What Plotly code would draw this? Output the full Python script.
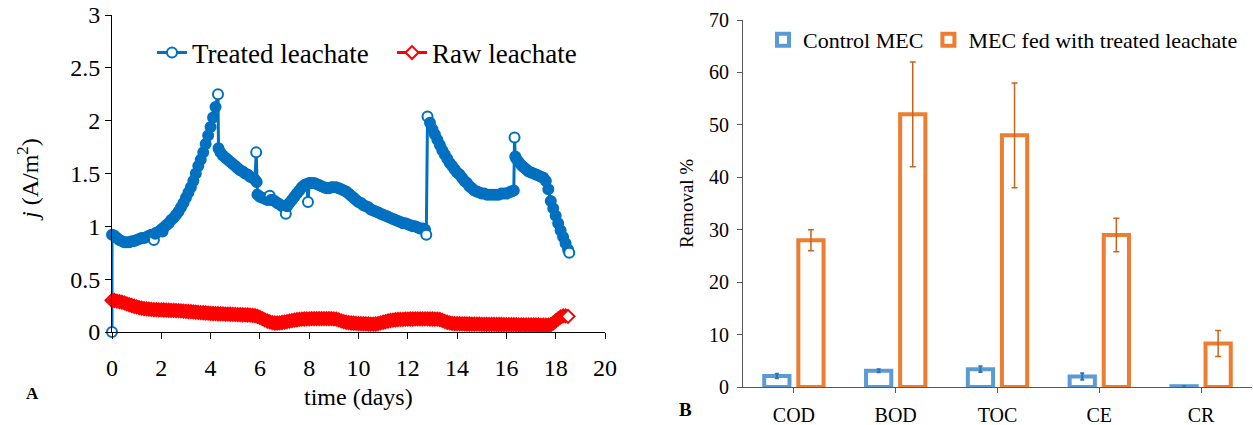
import plotly.graph_objects as go

FONT = "Liberation Serif"
W, H = 1253, 425

# ---------------- Panel A data ----------------
time_treated = [
    0.0, 0.0, 0.1, 0.2, 0.3, 0.4, 0.5, 0.6, 0.7, 0.8, 0.9,
    1.0, 1.1, 1.2, 1.3, 1.4, 1.5, 1.6, 1.7, 1.75, 1.8, 1.9,
    2.0, 2.05, 2.1, 2.2, 2.3, 2.4, 2.5, 2.6, 2.7, 2.8, 2.9,
    3.0, 3.1, 3.2, 3.3, 3.4, 3.5, 3.6, 3.7, 3.8, 3.9,
    4.0, 4.1, 4.2, 4.3, 4.32, 4.4, 4.5, 4.6, 4.7, 4.8, 4.9,
    5.0, 5.1, 5.2, 5.3, 5.4, 5.5, 5.6, 5.7, 5.8, 5.85, 5.87, 5.9,
    6.0, 6.1, 6.2, 6.3, 6.4, 6.45, 6.5, 6.6, 6.7, 6.8, 6.9,
    7.0, 7.05, 7.1, 7.2, 7.3, 7.4, 7.5, 7.6, 7.7, 7.8, 7.9, 7.95,
    8.0, 8.1, 8.2, 8.3, 8.4, 8.5, 8.6, 8.7, 8.8, 8.9,
    9.0, 9.1, 9.2, 9.3, 9.4, 9.5, 9.6, 9.7, 9.8, 9.9,
    10.0, 10.1, 10.2, 10.3, 10.4, 10.5, 10.6, 10.7, 10.8, 10.9,
    11.0, 11.1, 11.2, 11.3, 11.4, 11.5, 11.6, 11.7, 11.8, 11.9,
    12.0, 12.1, 12.2, 12.3, 12.4, 12.5, 12.6, 12.7, 12.75, 12.8, 12.9,
    13.0, 13.1, 13.2, 13.3, 13.4, 13.5, 13.6, 13.7, 13.8, 13.9,
    14.0, 14.1, 14.2, 14.3, 14.4, 14.5, 14.6, 14.7, 14.8, 14.9,
    15.0, 15.1, 15.2, 15.3, 15.4, 15.5, 15.6, 15.7, 15.8, 15.9,
    16.0, 16.1, 16.2, 16.3, 16.33, 16.36, 16.4, 16.5, 16.6, 16.7, 16.8, 16.9,
    17.0, 17.1, 17.2, 17.3, 17.4, 17.5, 17.6, 17.7, 17.8, 17.9,
    18.0, 18.1, 18.2, 18.3, 18.4, 18.5, 18.55,
]
j_treated = [
    0.00, 0.92, 0.91, 0.89, 0.87, 0.86, 0.85, 0.85, 0.85, 0.86, 0.86,
    0.87, 0.88, 0.89, 0.89, 0.90, 0.91, 0.92, 0.87, 0.93, 0.94, 0.95,
    0.97, 0.95, 0.99, 1.01, 1.03, 1.06, 1.08, 1.11, 1.14, 1.18, 1.22,
    1.27, 1.32, 1.37, 1.43, 1.50, 1.57, 1.63, 1.70, 1.78, 1.86,
    1.94, 2.03, 2.13, 2.25, 1.74, 1.70, 1.67, 1.65, 1.63, 1.61, 1.59,
    1.57, 1.55, 1.53, 1.52, 1.50, 1.49, 1.47, 1.46, 1.44, 1.70, 1.42, 1.30,
    1.28, 1.27, 1.26, 1.25, 1.29, 1.25, 1.25, 1.24, 1.22, 1.21, 1.19,
    1.18, 1.12, 1.19, 1.22, 1.25, 1.28, 1.31, 1.34, 1.37, 1.39, 1.40, 1.23,
    1.41, 1.41, 1.41, 1.40, 1.39, 1.38, 1.37, 1.36, 1.36, 1.37,
    1.37, 1.37, 1.36, 1.35, 1.34, 1.33, 1.31, 1.29, 1.27, 1.25,
    1.23, 1.22, 1.20, 1.19, 1.18, 1.16, 1.15, 1.14, 1.13, 1.12,
    1.11, 1.10, 1.09, 1.08, 1.07, 1.06, 1.05, 1.04, 1.03, 1.03,
    1.02, 1.01, 1.00, 1.00, 0.99, 0.98, 0.98, 0.97, 0.92, 2.04, 1.98,
    1.92, 1.87, 1.82, 1.77, 1.72, 1.68, 1.64, 1.60, 1.57, 1.54,
    1.51, 1.49, 1.46, 1.43, 1.41, 1.38, 1.36, 1.34, 1.33, 1.32,
    1.31, 1.31, 1.30, 1.30, 1.30, 1.30, 1.30, 1.30, 1.31, 1.31,
    1.31, 1.32, 1.33, 1.34, 1.84, 1.66, 1.64, 1.61, 1.58, 1.56, 1.54, 1.52,
    1.51, 1.50, 1.49, 1.48, 1.47, 1.46, 1.43, 1.35, 1.24, 1.17,
    1.10, 1.03, 0.96, 0.90, 0.84, 0.78, 0.75,
]

time_raw = [
    0.0, 0.1, 0.2, 0.3, 0.4, 0.5, 0.6, 0.7, 0.8, 0.9,
    1.0, 1.1, 1.2, 1.3, 1.4, 1.5, 1.6, 1.7, 1.8, 1.9,
    2.0, 2.1, 2.2, 2.3, 2.4, 2.5, 2.6, 2.7, 2.8, 2.9,
    3.0, 3.1, 3.2, 3.3, 3.4, 3.5, 3.6, 3.7, 3.8, 3.9,
    4.0, 4.1, 4.2, 4.3, 4.4, 4.5, 4.6, 4.7, 4.8, 4.9,
    5.0, 5.1, 5.2, 5.3, 5.4, 5.5, 5.6, 5.7, 5.8, 5.9,
    6.0, 6.1, 6.2, 6.3, 6.4, 6.5, 6.6, 6.7, 6.8, 6.9,
    7.0, 7.1, 7.2, 7.3, 7.4, 7.5, 7.6, 7.7, 7.8, 7.9,
    8.0, 8.1, 8.2, 8.3, 8.4, 8.5, 8.6, 8.7, 8.8, 8.9,
    9.0, 9.1, 9.2, 9.3, 9.4, 9.5, 9.6, 9.7, 9.8, 9.9,
    10.0, 10.1, 10.2, 10.3, 10.4, 10.5, 10.6, 10.7, 10.8, 10.9,
    11.0, 11.1, 11.2, 11.3, 11.4, 11.5, 11.6, 11.7, 11.8, 11.9,
    12.0, 12.1, 12.2, 12.3, 12.4, 12.5, 12.6, 12.7, 12.8, 12.9,
    13.0, 13.1, 13.2, 13.3, 13.4, 13.5, 13.6, 13.7, 13.8, 13.9,
    14.0, 14.1, 14.2, 14.3, 14.4, 14.5, 14.6, 14.7, 14.8, 14.9,
    15.0, 15.1, 15.2, 15.3, 15.4, 15.5, 15.6, 15.7, 15.8, 15.9,
    16.0, 16.1, 16.2, 16.3, 16.4, 16.5, 16.6, 16.7, 16.8, 16.9,
    17.0, 17.1, 17.2, 17.3, 17.4, 17.5, 17.6, 17.7, 17.8, 17.9,
    18.0, 18.1, 18.2, 18.3, 18.4, 18.5,
]
j_raw = [
    0.300, 0.298, 0.293, 0.288, 0.282, 0.275, 0.266, 0.258, 0.251, 0.244,
    0.237, 0.231, 0.226, 0.222, 0.219, 0.216, 0.214, 0.212, 0.211, 0.210,
    0.209, 0.208, 0.207, 0.206, 0.205, 0.204, 0.203, 0.202, 0.200, 0.198,
    0.196, 0.194, 0.192, 0.190, 0.188, 0.186, 0.184, 0.182, 0.180, 0.178,
    0.176, 0.175, 0.174, 0.173, 0.172, 0.171, 0.170, 0.169, 0.168, 0.167,
    0.166, 0.165, 0.164, 0.163, 0.162, 0.161, 0.160, 0.158, 0.155, 0.148,
    0.138, 0.127, 0.115, 0.104, 0.095, 0.089, 0.085, 0.085, 0.087, 0.090,
    0.094, 0.098, 0.103, 0.108, 0.112, 0.116, 0.119, 0.121, 0.123, 0.124,
    0.125, 0.126, 0.126, 0.127, 0.127, 0.127, 0.127, 0.127, 0.126, 0.126,
    0.125, 0.121, 0.114, 0.106, 0.098, 0.092, 0.088, 0.085, 0.083, 0.081,
    0.080, 0.079, 0.078, 0.077, 0.076, 0.075, 0.075, 0.076, 0.080, 0.086,
    0.092, 0.098, 0.104, 0.109, 0.113, 0.116, 0.118, 0.119, 0.120, 0.121,
    0.122, 0.123, 0.123, 0.124, 0.124, 0.124, 0.124, 0.124, 0.124, 0.123,
    0.123, 0.122, 0.121, 0.118, 0.110, 0.100, 0.092, 0.086, 0.082, 0.080,
    0.079, 0.078, 0.077, 0.077, 0.076, 0.076, 0.075, 0.075, 0.074, 0.074,
    0.073, 0.073, 0.073, 0.072, 0.072, 0.072, 0.071, 0.071, 0.071, 0.070,
    0.070, 0.070, 0.069, 0.069, 0.069, 0.068, 0.068, 0.068, 0.067, 0.067,
    0.067, 0.066, 0.066, 0.066, 0.065, 0.065, 0.064, 0.064, 0.070, 0.085,
    0.105, 0.125, 0.142, 0.152, 0.153, 0.148,
]
time_ticks = [0, 2, 4, 6, 8, 10, 12, 14, 16, 18, 20]
j_ticks = [0, 0.5, 1, 1.5, 2, 2.5, 3]

# ---------------- Panel B data ----------------
categories = ["COD", "BOD", "TOC", "CE", "CR"]
control_removal = [2.1, 3.1, 3.4, 2.0, 0.15]
control_err = [0.45, 0.3, 0.55, 0.6, 0.0]
treated_removal = [28.0, 52.0, 48.0, 29.0, 8.3]
treated_err = [2.0, 10.0, 10.0, 3.2, 2.5]
removal_ticks = [0, 10, 20, 30, 40, 50, 60, 70]

BLUE = "#0070C0"
RED = "#FF0000"
BAR_BLUE = "#5B9BD5"
BAR_ORANGE = "#ED7D31"


def px_x(p):
    """pixel of the reference image -> paper fraction"""
    return p / W


def px_y(p):
    return 1 - p / H


def hollow_fill(values, color, thr=0.035):
    """Markers whose white centre stays visible: end points and isolated spikes."""
    fills = []
    n = len(values)
    for i, v in enumerate(values):
        if i == 0 or i == n - 1:
            fills.append("white")
            continue
        a, b = v - values[i - 1], v - values[i + 1]
        if abs(a) > thr and abs(b) > thr and a * b > 0:
            fills.append("white")
        else:
            fills.append(color)
    return fills


fig = go.Figure()

fig.add_trace(go.Scatter(
    x=time_treated, y=j_treated, mode="lines+markers", name="Treated leachate",
    line=dict(color=BLUE, width=3),
    marker=dict(symbol="circle", size=10, color=hollow_fill(j_treated, BLUE),
                line=dict(color=BLUE, width=2)),
    xaxis="x", yaxis="y", legend="legend", cliponaxis=False,
))
fig.add_trace(go.Scatter(
    x=time_raw, y=j_raw, mode="lines+markers", name="Raw leachate",
    line=dict(color=RED, width=3),
    marker=dict(symbol="diamond", size=10, color=hollow_fill(j_raw, RED, thr=1.0),
                line=dict(color=RED, width=2)),
    xaxis="x", yaxis="y", legend="legend", cliponaxis=False,
))

fig.add_trace(go.Bar(
    x=categories, y=control_removal, name="Control MEC",
    marker=dict(color="white", line=dict(color=BAR_BLUE, width=4)),
    error_y=dict(type="data", array=control_err, color="#2E75B6", thickness=2, width=2),
    xaxis="x2", yaxis="y2", legend="legend2",
))
fig.add_trace(go.Bar(
    x=categories, y=treated_removal, name="MEC fed with treated leachate",
    marker=dict(color="white", line=dict(color=BAR_ORANGE, width=4)),
    error_y=dict(type="data", array=treated_err, color="#C9641F", thickness=1.5, width=3),
    xaxis="x2", yaxis="y2", legend="legend2",
))

axis_common = dict(showgrid=False, zeroline=False, showline=True, ticks="outside",
                   automargin=False, ticklabeloverflow="allow")

fig.update_layout(
    width=W, height=H,
    margin=dict(l=0, r=0, t=0, b=0, autoexpand=False),
    paper_bgcolor="white", plot_bgcolor="white",
    font=dict(family=FONT, color="black"),
    barmode="group", bargap=0.33, bargroupgap=0.26,
    xaxis=dict(domain=[px_x(112), px_x(605)], anchor="y", range=[0, 20],
               tickvals=time_ticks, ticklen=6, linecolor="black", tickcolor="black",
               tickfont=dict(size=24, family=FONT), ticklabelstandoff=8, **axis_common),
    yaxis=dict(domain=[px_y(332), px_y(15)], anchor="x", range=[0, 3],
               tickvals=j_ticks, ticklen=6, linecolor="black", tickcolor="black",
               tickfont=dict(size=24, family=FONT), **axis_common),
    xaxis2=dict(domain=[px_x(743), px_x(1252)], anchor="y2", type="category",
                ticklen=5, linecolor="#595959", tickcolor="#595959",
                tickfont=dict(size=20, family=FONT), ticklabelstandoff=5, **axis_common),
    yaxis2=dict(domain=[px_y(387), px_y(20)], anchor="x2", range=[0, 70],
                tickvals=removal_ticks, ticklen=5, linecolor="#595959", tickcolor="#595959",
                tickfont=dict(size=20, family=FONT), ticklabelstandoff=4, **axis_common),
    legend=dict(x=px_x(152), y=px_y(53), xanchor="left", yanchor="middle",
                orientation="h", font=dict(size=27, family=FONT, color="black"),
                bgcolor="rgba(0,0,0,0)", entrywidth=195, tracegroupgap=0),
    legend2=dict(x=px_x(763), y=px_y(40), xanchor="left", yanchor="middle",
                 orientation="h", font=dict(size=22, family=FONT, color="black"),
                 bgcolor="rgba(0,0,0,0)", tracegroupgap=0),
    showlegend=True,
)

annotations = [
    dict(text="<i>j</i> (A/m<sup>2</sup>)", x=px_x(28), y=px_y(180), textangle=-90,
         font=dict(size=24, family=FONT)),
    dict(text="time (days)", x=px_x(358), y=px_y(397), font=dict(size=24, family=FONT)),
    dict(text="Removal %", x=px_x(686), y=px_y(204), textangle=-90,
         font=dict(size=19, family=FONT)),
    dict(text="<b>A</b>", x=px_x(32), y=px_y(393), font=dict(size=17, family=FONT)),
    dict(text="<b>B</b>", x=px_x(685), y=px_y(409), font=dict(size=19, family=FONT)),
]
for a in annotations:
    a.update(xref="paper", yref="paper", showarrow=False, xanchor="center", yanchor="middle")
fig.update_layout(annotations=annotations)

# remove the browser's default 8px page margin so the figure fills the window
fig.write_html("out.html", config={"displayModeBar": False},
               post_script="document.body.style.margin='0px';")
